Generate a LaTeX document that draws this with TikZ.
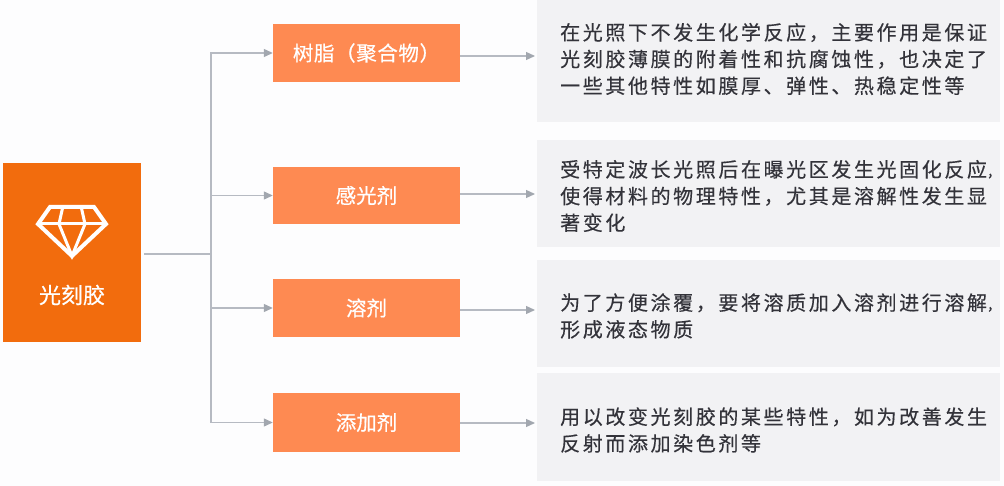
\documentclass[tikz,border=0pt]{standalone}
\usepackage{fontspec}
\newfontfamily\cjk[FakeBold=0.5]{Noto Sans CJK SC}
\newfontfamily\cjkwide[FakeBold=0.5,LetterSpace=3]{Noto Sans CJK SC}
\newfontfamily\cjkdesc[LetterSpace=13,FakeBold=0.35]{Noto Sans CJK SC}
\newcommand{\tailcomma}{\makebox[9pt][l]{\fontsize{14}{14}\selectfont ，}}
\usetikzlibrary{arrows.meta}
\definecolor{mainor}{HTML}{F26C0D}
\definecolor{boxor}{HTML}{FE8A52}
\definecolor{panelg}{HTML}{F2F2F4}
\definecolor{linegr}{HTML}{B6BAC2}
\definecolor{arrowgr}{HTML}{A2A7AF}
\definecolor{desc}{HTML}{33333A}
\definecolor{pagebg}{HTML}{FDFDFE}
\tikzset{
  x=1pt,y=-1pt,
  mainbox/.style={fill=mainor,draw=none,anchor=north west,inner sep=0pt,minimum width=138pt,minimum height=179pt},
  itembox/.style={fill=boxor,draw=none,inner sep=0pt,minimum width=187pt,minimum height=58pt,text=white,font=\cjk\fontsize{20.5}{24}\selectfont},
  panelbox/.style={fill=panelg,draw=none,inner sep=0pt,minimum width=463pt},
  desctext/.style={anchor=west,inner sep=0pt,align=left,text=desc,font=\cjkdesc\fontsize{20}{26.7}\selectfont},
  mainlabel/.style={text=white,inner sep=0pt,font=\cjk\fontsize{22}{26}\selectfont},
  wire/.style={draw=linegr,line width=1.2pt},
  arrowline/.style={draw=linegr,line width=1.2pt,-{Triangle[length=9pt,width=8pt,fill=arrowgr,color=arrowgr]}},
  gem/.style={draw=white,line width=4pt,line join=miter}
}
\begin{document}
\begin{tikzpicture}
\useasboundingbox (0,0) rectangle (1004,486);
\fill[pagebg] (0,0) rectangle (1004,486);
% panels
\node[panelbox,minimum height=122pt] (p1) at (768.5,61) {};
\node[panelbox,minimum height=107pt] (p2) at (768.5,193.5) {};
\node[panelbox,minimum height=107pt] (p3) at (768.5,313.5) {};
\node[panelbox,minimum height=108pt] (p4) at (768.5,427) {};
% panel texts
\node[desctext] (t1) at (560,59) {在光照下不发生化学反应，主要作用是保证\\光刻胶薄膜的附着性和抗腐蚀性，也决定了\\一些其他特性如膜厚、弹性、热稳定性等};
\node[desctext] (t2) at (560,196) {受特定波长光照后在曝光区发生光固化反应\tailcomma\\使得材料的物理特性，尤其是溶解性发生显\\著变化};
\node[desctext] (t3) at (560,316) {为了方便涂覆，要将溶质加入溶剂进行溶解\tailcomma\\形成液态物质};
\node[desctext] (t4) at (560,430) {用以改变光刻胶的某些特性，如为改善发生\\反射而添加染色剂等};
% main box
\node[mainbox] (main) at (3,163) {};
\node[mainlabel] (mainl) at (72,295) {光刻胶};
% gem icon
\draw[gem] (50,207) -- (94,207) -- (106,224) -- (72,256) -- (38,224) -- cycle;
\draw[gem,line width=3pt] (38,224) -- (106,224);
\draw[gem,line width=3pt] (63,206) -- (59,224) -- (72,256) -- (85,224) -- (81,206);
% item boxes
\node[itembox,font=\cjkwide\fontsize{20.5}{24}\selectfont] (b1) at (366.5,53) {树脂（聚合物）};
\node[itembox,minimum height=57pt] (b2) at (366.5,195.5) {感光剂};
\node[itembox] (b3) at (366.5,308) {\raisebox{-1pt}{溶剂}};
\node[itembox,minimum height=59pt] (b4) at (366.5,422.5) {添加剂};
% connectors
\coordinate (bus) at (211,254);
\draw[wire,shorten <=3pt] (main.east |- bus) -- (bus);
\draw[arrowline] (bus) |- (b1.west);
\draw[arrowline] (bus) |- (b2.west);
\draw[arrowline] (bus) |- (b3.west);
\draw[arrowline] (bus) |- (b4.west);
\coordinate (r1) at (535,56);
\coordinate (r2) at (535,194);
\coordinate (r3) at (535,310);
\coordinate (r4) at (535,423);
\draw[arrowline] (b1.east |- r1) -- (r1);
\draw[arrowline] (b2.east |- r2) -- (r2);
\draw[arrowline] (b3.east |- r3) -- (r3);
\draw[arrowline] (b4.east |- r4) -- (r4);
\end{tikzpicture}
\end{document}
